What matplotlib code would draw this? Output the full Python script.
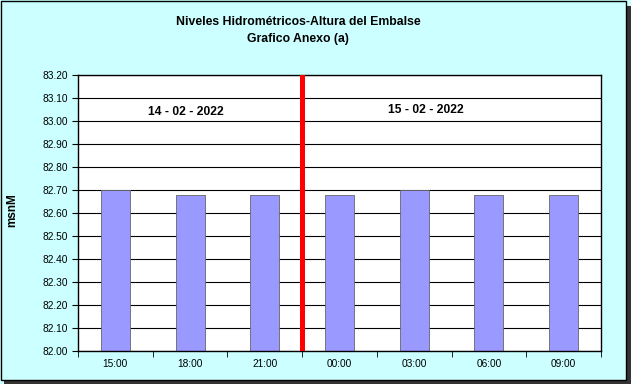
import matplotlib
matplotlib.use("Agg")
import matplotlib.pyplot as plt
from matplotlib.patches import Rectangle
import numpy as np

categories = ["15:00", "18:00", "21:00", "00:00", "03:00", "06:00", "09:00"]
values = [82.70, 82.68, 82.68, 82.68, 82.70, 82.68, 82.68]
yticks = [82.00 + 0.10 * i for i in range(13)]
date_labels = ["14 - 02 - 2022", "15 - 02 - 2022"]
divider_pos = 2.5

plt.rcParams['font.family'] = ['Liberation Sans', 'DejaVu Sans']

fig = plt.figure(figsize=(6.31, 3.84), dpi=100)
fig.patch.set_facecolor('#CCFFFF')

W, H = 631, 384
# outer border with shadow
fig.patches.append(Rectangle((4 / W, 0), 1 - 4 / W, 1 - 6 / H, transform=fig.transFigure,
                             facecolor='#333333', edgecolor='none', zorder=-2))
fig.patches.append(Rectangle((1 / W, 4 / H), 1 - 6 / W, 1 - 5 / H, transform=fig.transFigure,
                             facecolor='#CCFFFF', edgecolor='black', linewidth=1.0, zorder=-1))

ax = fig.add_axes([78 / W, 1 - 351 / H, (601 - 78) / W, (351 - 75) / H])
ax.set_facecolor('white')
x = np.arange(len(categories))
ax.bar(x, values, width=0.39, color='#9999FF', edgecolor='#666666', linewidth=0.6, zorder=2)
ax.set_ylim(82.0, 83.2)
ax.set_xlim(-0.5, len(categories) - 0.5)
ax.set_yticks(yticks)
ax.set_yticklabels([f"{v:.2f}" for v in yticks], fontsize=7.3)
ax.set_xticks(x)
ax.set_xticklabels(categories, fontsize=7.3)
ax.tick_params(axis='x', length=0, pad=6)
ax.set_xticks(np.arange(len(categories) + 1) - 0.5, minor=True)
ax.tick_params(axis='x', which='minor', length=4, direction='out', color='black')
ax.tick_params(axis='y', length=4, direction='out', pad=3)
ax.grid(axis='y', color='black', linewidth=0.8, zorder=1)
for s in ax.spines.values():
    s.set_color('black')
    s.set_linewidth(1.0)

ax.axvline(divider_pos, color='#FF0000', linewidth=3.6, zorder=3)

ax.text(0.95, 83.04, date_labels[0], fontsize=8.7, fontweight='bold', ha='center', va='center')
ax.text(4.15, 83.05, date_labels[1], fontsize=8.7, fontweight='bold', ha='center', va='center')

fig.text(298 / W, 1 - 22 / H, "Niveles Hidrométricos-Altura del Embalse", fontsize=8.8,
         fontweight='bold', ha='center', va='center')
fig.text(298 / W, 1 - 39 / H, "Grafico Anexo (a)", fontsize=8.8,
         fontweight='bold', ha='center', va='center')
fig.text(12 / W, 1 - 210 / H, "msnM", fontsize=8.5, fontweight='bold', rotation=90,
         ha='center', va='center')

fig.savefig("out.png", dpi=100, facecolor=fig.get_facecolor())
